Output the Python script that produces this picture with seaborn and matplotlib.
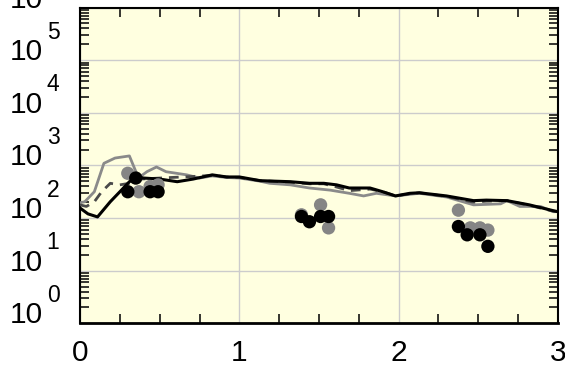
import matplotlib
matplotlib.use("Agg")
import matplotlib.pyplot as plt
import matplotlib.transforms as mtransforms
import seaborn as sns
import pandas as pd
import numpy as np
from matplotlib.ticker import LogLocator, MultipleLocator, FixedLocator, NullFormatter

# ---- data ----
x_black = [0.0, 0.05, 0.11, 0.19, 0.26, 0.31, 0.36, 0.40, 0.50, 0.61, 0.71, 0.83, 0.92, 1.00, 1.13,
           1.32, 1.44, 1.53, 1.61, 1.69, 1.82, 1.90, 1.98, 2.07, 2.13, 2.30, 2.47, 2.55, 2.68, 2.82, 2.97, 3.00]
y_black = [155, 120, 105, 204, 339, 490, 603, 575, 550, 490, 550, 661, 603, 603, 513,
           490, 457, 457, 427, 372, 372, 316, 263, 295, 302, 263, 214, 219, 214, 178, 138, 132]

x_gray = [0.0, 0.03, 0.09, 0.15, 0.22, 0.31, 0.355, 0.38, 0.42, 0.48, 0.54, 0.67, 0.75, 0.83, 0.92, 1.00,
          1.13, 1.19, 1.32, 1.44, 1.57, 1.69, 1.78, 1.86, 1.98, 2.13, 2.30, 2.47, 2.64, 2.68, 2.76, 2.89, 2.97, 3.00]
y_gray = [195, 204, 316, 1096, 1380, 1514, 708, 617, 759, 933, 759, 661, 575, 631, 589, 575,
          501, 457, 427, 372, 339, 295, 263, 295, 263, 295, 251, 178, 186, 214, 166, 166, 132, 132]

x_dash = [0.0, 0.04, 0.09, 0.136, 0.19, 0.25, 0.31, 0.38, 0.50, 0.71, 0.83, 0.92, 1.00, 1.13, 1.32,
          1.44, 1.53, 1.61, 1.69, 1.82, 1.90, 1.98, 2.07, 2.13, 2.30, 2.47, 2.55, 2.68, 2.82, 2.97, 3.00]
y_dash = [178, 166, 204, 316, 457, 427, 457, 550, 575, 617, 646, 603, 589, 513, 479,
          447, 447, 389, 331, 355, 316, 263, 288, 302, 257, 200, 209, 214, 174, 135, 132]

pts_black_x = [0.30, 0.35, 0.44, 0.49, 1.39, 1.44, 1.51, 1.56, 2.375, 2.43, 2.51, 2.56]
pts_black_y = [316, 575, 316, 316, 107, 85, 107, 107, 69, 48, 48, 29]
pts_gray_x = [0.30, 0.37, 0.44, 0.49, 1.39, 1.51, 1.56, 2.375, 2.45, 2.51, 2.56]
pts_gray_y = [708, 316, 398, 427, 115, 178, 65, 141, 65, 65, 59]

x_ticks = [0, 1, 2, 3]
y_decades = [0, 1, 2, 3, 4, 5, 6]

# ---- style ----
sns.set_theme(style="ticks")
plt.rcParams["font.family"] = ["Liberation Sans", "DejaVu Sans"]

fig = plt.figure(figsize=(5.65, 3.66), dpi=100)
ax = fig.add_axes([80 / 565, 1 - 323.3 / 366, (558 - 80) / 565, (323.3 - 7.5) / 366])
ax.set_facecolor("#ffffe0")

df_gray = pd.DataFrame({"x": x_gray, "y": y_gray})
df_dash = pd.DataFrame({"x": x_dash, "y": y_dash})
df_black = pd.DataFrame({"x": x_black, "y": y_black})

sns.lineplot(data=df_gray, x="x", y="y", ax=ax, color="#8a8a8a", lw=2.0, sort=False, zorder=3)
sns.lineplot(data=df_dash, x="x", y="y", ax=ax, color="#4a4a4a", lw=2.0, sort=False, zorder=3,
             linestyle=(0, (3.5, 2.5)))
sns.lineplot(data=df_black, x="x", y="y", ax=ax, color="black", lw=2.2, sort=False, zorder=3)

sns.scatterplot(x=pts_gray_x, y=pts_gray_y, ax=ax, color="#858585", s=92, edgecolor="none", zorder=4)
sns.scatterplot(x=pts_black_x, y=pts_black_y, ax=ax, color="black", s=92, edgecolor="none", zorder=5)

ax.set_yscale("log")
ax.set_xlim(0, 3)
ax.set_ylim(1, 1e6)

ax.xaxis.set_major_locator(FixedLocator(x_ticks))
ax.xaxis.set_minor_locator(MultipleLocator(0.25))
ax.set_xticklabels([str(t) for t in x_ticks])
y_major = [10.0 ** k for k in y_decades]
ax.yaxis.set_major_locator(FixedLocator(y_major))
ax.yaxis.set_minor_locator(LogLocator(base=10, subs=np.arange(2, 10), numticks=20))
ax.yaxis.set_minor_formatter(NullFormatter())
ax.set_yticklabels(["10" for k in y_decades])

ax.grid(True, which="major", color="#cccccc", lw=1.0)
ax.tick_params(which="both", direction="in", top=True, right=True, colors="black")
ax.tick_params(which="major", length=0, labelsize=21.5)
ax.tick_params(axis="x", which="major", pad=11.5)
ax.tick_params(axis="y", which="major", pad=26.4)
ax.tick_params(which="minor", length=6.5, width=1.1)
for lab in ax.get_yticklabels():
    lab.set_verticalalignment("baseline")

# exponents of the decade labels
base_tr = mtransforms.blended_transform_factory(ax.transAxes, ax.transData)
exp_tr = base_tr + mtransforms.ScaledTranslation(-24.0 / 72, 15.4 / 72, fig.dpi_scale_trans)
for k, v in zip(y_decades, y_major):
    ax.text(0, v, str(k), transform=exp_tr, ha="left", va="baseline", fontsize=16.5,
            color="black", clip_on=False)

for side in ["left", "right", "top", "bottom"]:
    ax.spines[side].set_color("black")
    ax.spines[side].set_linewidth(1.5)
ax.spines["bottom"].set_linewidth(2.0)
ax.set_xlabel("")
ax.set_ylabel("")

fig.savefig("out.png", dpi=100)
